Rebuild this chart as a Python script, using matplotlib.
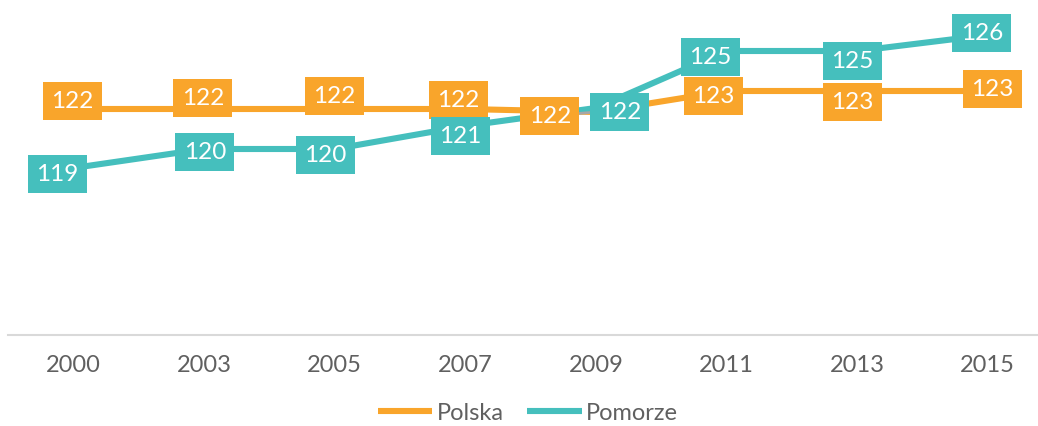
import matplotlib
matplotlib.use("Agg")
import matplotlib.pyplot as plt

# ---- data ----
years = ["2000", "2003", "2005", "2007", "2009", "2011", "2013", "2015"]
polska = [122.3, 122.3, 122.3, 122.3, 122.15, 123.2, 123.2, 123.2]
pomorze = [119.35, 120.3, 120.3, 121.45, 122.35, 125.2, 125.2, 126.0]
series_names = ["Polska", "Pomorze"]

# ---- layout / style ----
colors = ["#F9A52B", "#45BFBD"]
# label offsets in pixels (dx right, dy down) relative to the point
polska_off = [(-1, -8), (-1, -11), (0, -13), (-7, -9), (-46, 4), (-13, 5), (-5, 11), (5, -2)]
pomorze_off = [(-16, 6), (1, 3), (-9, 6), (-5, 10), (24, 4), (-16, 6), (-5, 10), (-6, -2)]

plt.rcParams['font.family'] = ['Lato', 'DejaVu Sans']
W, H = 1038, 427
fig = plt.figure(figsize=(W / 100, H / 100), dpi=100)
base_y = 336
ax = fig.add_axes([8 / W, (H - base_y) / H, 1045 / W, base_y / H])
ax.set_xlim(-0.5, len(years) - 0.5)
ax.set_ylim(111, 111 + base_y / 20)

x = list(range(len(years)))
for vals, col, name in zip([polska, pomorze], colors, series_names):
    ax.plot(x, vals, color=col, lw=4.4, solid_capstyle='butt', zorder=2, label=name)

def labels(vals, col, offs, z):
    for i, (v, (dx, dy)) in enumerate(zip(vals, offs)):
        kw = {}
        if abs(dx) > 30:
            kw['arrowprops'] = dict(arrowstyle='-', color='#A6A6A6', lw=2,
                                    shrinkA=0, shrinkB=0)
        ax.annotate(f"{round(v):d}", (i, v), xytext=(dx, -dy),
                    textcoords='offset pixels', ha='center', va='center',
                    color='white', fontsize=17.5,
                    bbox=dict(boxstyle='square,pad=0.34', fc=col, ec='none'),
                    zorder=z, **kw)

labels(polska, colors[0], polska_off, 4)
labels(pomorze, colors[1], pomorze_off, 5)

ax.set_xticks(x)
ax.set_xticklabels(years, color='#606060', fontsize=17)
ax.set_yticks([])
ax.tick_params(axis='x', length=0, pad=14)
for s in ['left', 'right', 'top']:
    ax.spines[s].set_visible(False)
ax.spines['bottom'].set_color('#D9D9D9')
ax.spines['bottom'].set_linewidth(1.5)
ax.patch.set_alpha(0)

handles, labs = ax.get_legend_handles_labels()
leg = fig.legend(handles, labs, loc='center', bbox_to_anchor=(528 / W, (H - 414) / H),
                 ncol=2, frameon=False, fontsize=17, handlelength=2.3,
                 handletextpad=0.2, columnspacing=1.0, borderpad=0)
for t in leg.get_texts():
    t.set_color('#606060')

fig.savefig("out.png", dpi=100)
